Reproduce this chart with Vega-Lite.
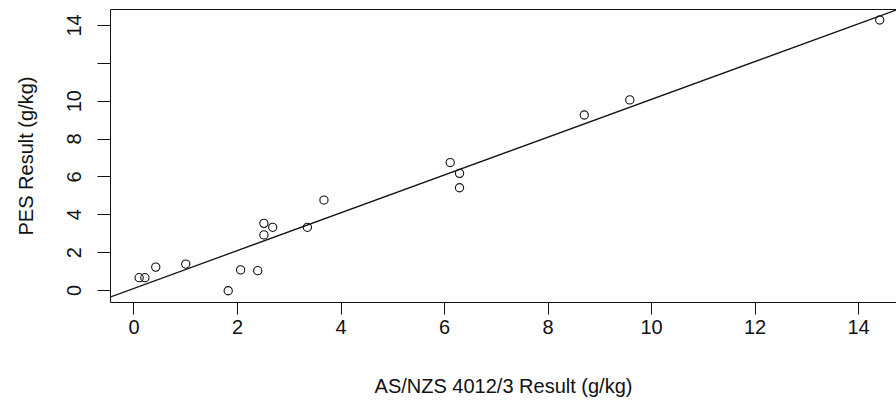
{
  "$schema": "https://vega.github.io/schema/vega-lite/v6.json",
  "width": 786,
  "height": 293,
  "autosize": {"type": "none"},
  "padding": {"left": 110, "top": 9, "right": 0, "bottom": 105},
  "background": "white",
  "config": {
    "view": {"stroke": null},
    "font": "Liberation Sans",
    "axis": {"grid": false, "domainColor": "#111", "tickColor": "#111", "labelColor": "#111", "titleColor": "#111", "titleFontWeight": "normal"}
  },
  "data": {
    "values": [
      {"asnzs": 0.11, "pes": 0.65},
      {"asnzs": 0.22, "pes": 0.65},
      {"asnzs": 0.43, "pes": 1.21},
      {"asnzs": 1.01, "pes": 1.37},
      {"asnzs": 1.83, "pes": -0.04},
      {"asnzs": 2.07, "pes": 1.06},
      {"asnzs": 2.40, "pes": 1.02},
      {"asnzs": 2.52, "pes": 3.52},
      {"asnzs": 2.52, "pes": 2.91},
      {"asnzs": 2.69, "pes": 3.31},
      {"asnzs": 3.36, "pes": 3.31},
      {"asnzs": 3.68, "pes": 4.75},
      {"asnzs": 6.12, "pes": 6.73},
      {"asnzs": 6.30, "pes": 6.16},
      {"asnzs": 6.30, "pes": 5.40},
      {"asnzs": 8.71, "pes": 9.24},
      {"asnzs": 9.59, "pes": 10.04},
      {"asnzs": 14.42, "pes": 14.26}
    ]
  },
  "layer": [
    {
      "mark": {"type": "point", "shape": "circle", "filled": false, "color": "#111", "strokeWidth": 1.1, "size": 68, "opacity": 1},
      "encoding": {
        "x": {
          "field": "asnzs", "type": "quantitative",
          "scale": {"domain": [-0.454, 14.734], "nice": false, "zero": false},
          "axis": {
            "orient": "bottom", "values": [0, 2, 4, 6, 8, 10, 12, 14],
            "tickSize": 12, "labelFontSize": 20, "labelPadding": 3,
            "title": "AS/NZS 4012/3 Result (g/kg)", "titleFontSize": 20, "titlePadding": 39
          }
        },
        "y": {
          "field": "pes", "type": "quantitative",
          "scale": {"domain": [-0.634, 14.84], "nice": false, "zero": false},
          "axis": {
            "values": [0, 2, 4, 6, 8, 10, 12, 14],
            "labelExpr": "datum.value == 12 ? '' : datum.label",
            "tickSize": 13, "labelFontSize": 20, "labelAngle": -90,
            "labelAlign": "center", "labelBaseline": "alphabetic", "labelPadding": 17,
            "title": "PES Result (g/kg)", "titleFontSize": 20, "titlePadding": 28
          }
        }
      }
    },
    {
      "transform": [{"regression": "pes", "on": "asnzs", "method": "linear", "extent": [-0.454, 14.734]}],
      "mark": {"type": "line", "color": "#111", "strokeWidth": 1.3, "clip": true},
      "encoding": {
        "x": {
          "field": "asnzs", "type": "quantitative",
          "axis": {"orient": "top", "labels": false, "ticks": false, "title": null}
        },
        "y": {"field": "pes", "type": "quantitative", "title": "PES Result (g/kg)"}
      }
    }
  ],
  "resolve": {"axis": {"x": "independent"}}
}
